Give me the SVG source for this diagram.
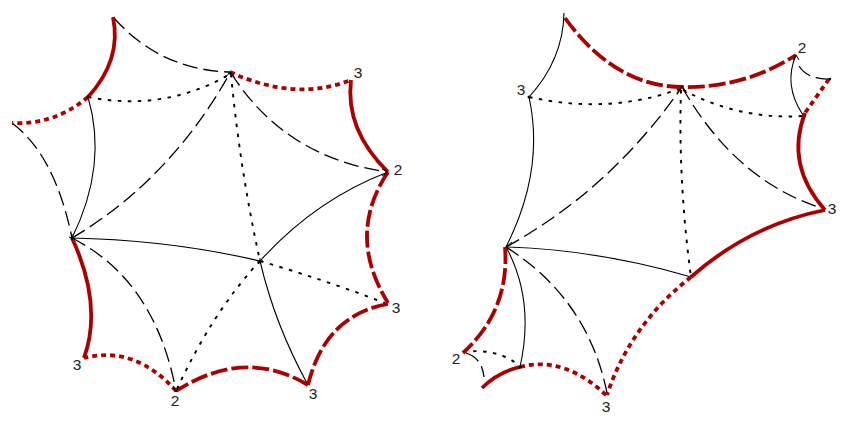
<svg xmlns="http://www.w3.org/2000/svg" width="843" height="423" viewBox="0 0 843 423">
<style>
path{fill:none;stroke-linecap:butt}
.k{stroke:#000;stroke-width:1.1}
.kd{stroke:#000;stroke-width:1.3;stroke-dasharray:15 6}
.kp{stroke:#000;stroke-width:1.9;stroke-dasharray:3.5 6.5}
.r{stroke:#aa0000;stroke-width:3.8}
.rd{stroke:#aa0000;stroke-width:3.8;stroke-dasharray:17 4}
.rp{stroke:#aa0000;stroke-width:3.8;stroke-dasharray:5 4}
.a{stroke:#000;stroke-width:1}
text{font-family:"Liberation Sans",Arial,sans-serif;font-size:15.5px;fill:#222;text-anchor:middle}
circle{fill:#000}
</style>
<rect width="843" height="423" fill="#fff"/>
<g id="connectors">
<path class="kd" d="M114 18Q160 70 230 72"/>
<path class="kp" d="M88 97Q165 112 230 74"/>
<path class="k" d="M88 97Q108 165 72 238"/>
<path class="kd" d="M12 123Q55 155 72 238"/>
<path class="kd" d="M72 238Q170 180 230 73"/>
<path class="kp" d="M231 74Q240 170 260 261"/>
<path class="kd" d="M231 73Q285 158 388 172"/>
<path class="k" d="M260 261Q315 200 388 172"/>
<path class="k" d="M72 238Q170 240 260 261"/>
<path class="kp" d="M260 261Q325 280 385 303"/>
<path class="k" d="M260 261Q275 325 308 385"/>
<path class="kp" d="M260 261Q213 311 176 391"/>
<path class="kd" d="M72 238Q155 280 176 391"/>
<path class="r" d="M113 17Q122 60 88 97"/>
<path class="rp" d="M88 97Q55 125 12 123"/>
<path class="rp" d="M230 72Q295 102 351 80"/>
<path class="r" d="M351 80Q345 130 388 172"/>
<path class="rd" d="M388 172Q346 235 388 303"/>
<path class="rd" d="M388 304Q325 315 308 385"/>
<path class="rd" d="M308 385Q245 347 176 391"/>
<path class="rp" d="M176 391Q135 345 84 358"/>
<path class="r" d="M84 358Q103 305 72 238"/>
<path class="k" d="M564 13Q563 60 529 97"/>
<path class="kp" d="M529 97Q610 115 682 88"/>
<path class="k" d="M529 97Q545 170 506 247"/>
<path class="kd" d="M506 247Q610 190 682 87"/>
<path class="kp" d="M683 90Q740 120 803 116"/>
<path class="kp" d="M681 90Q678 180 691 277"/>
<path class="kd" d="M682 87Q735 180 821 208"/>
<path class="k" d="M796 55Q783 85 803 115"/>
<path class="kd" d="M799 66Q808 80 830 79"/>
<path class="k" d="M506 247Q600 250 691 277"/>
<path class="k" d="M506 247Q535 300 520 367"/>
<path class="kd" d="M506 247Q590 300 608 398"/>
<path class="kp" d="M463 352Q495 348 516 363"/>
<path class="kd" d="M466 353Q482 358 484 377"/>
<path class="rd" d="M565 18Q615 87 683 87Q745 88 796 55"/>
<path class="rp" d="M829 79L805 113"/>
<path class="r" d="M805 113Q785 165 825 210"/>
<path class="r" d="M825 210Q750 225 691 277"/>
<path class="rp" d="M691 277Q630 325 607 395"/>
<path class="rd" d="M505 247Q510 310 463 353"/>
<path class="r" d="M482 388Q498 372 520 367"/>
<path class="rp" d="M520 367Q565 355 608 397"/>
</g>
<g id="n1"><circle cx="88" cy="97" r="1.5"/></g>
<g id="n2"><path class="a" d="M225 78L230 72L235 78"/><circle cx="230" cy="73" r="1.5"/></g>
<g id="n3"><text x="358" y="78">3</text></g>
<g id="n4"><path class="a" d="M382 169L388 172L382 176"/><text x="398" y="175">2</text></g>
<g id="n5"><path class="a" d="M72 234L72 240M69 237L75 239"/><circle cx="72" cy="238" r="1.5"/></g>
<g id="n6"><path class="a" d="M257 261L263 261M260 258L260 264"/></g>
<g id="n7"><text x="396" y="313">3</text></g>
<g id="n8"><text x="313" y="399">3</text></g>
<g id="n9"><path class="a" d="M173 386L176 392L179 386"/><text x="175" y="406">2</text></g>
<g id="n10"><text x="77" y="370">3</text></g>
<g id="n11"><circle cx="529" cy="97" r="1.5"/><text x="521" y="95">3</text></g>
<g id="n12"><path class="a" d="M677 93L682 86L687 93"/></g>
<g id="n13"><path class="a" d="M793 60L796 55L799 60"/><text x="802" y="53">2</text></g>
<g id="n14"><text x="832" y="214">3</text></g>
<g id="n15"><path class="a" d="M512 242L506 247L512 251"/></g>
<g id="n16"><circle cx="520" cy="367" r="1.5"/></g>
<g id="n17"><text x="606" y="412">3</text></g>
<g id="n18"><text x="456" y="364">2</text></g>
<g id="n19"><circle cx="830" cy="79" r="1.2"/></g>
</svg>
